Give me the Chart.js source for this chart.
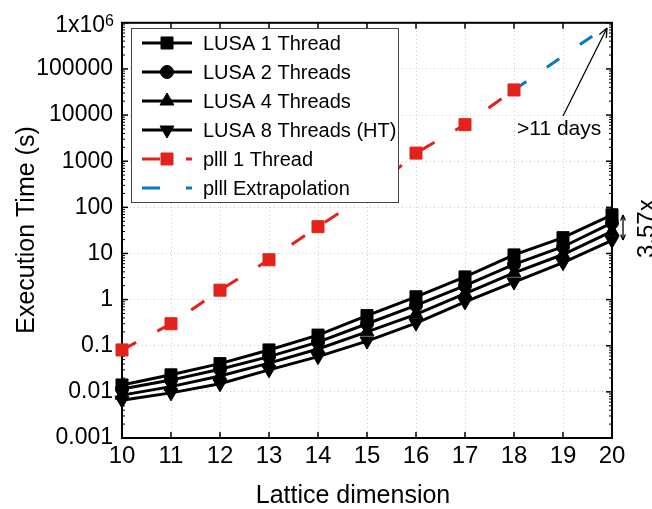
<!DOCTYPE html>
<html>
<head>
<meta charset="utf-8">
<script src="https://cdn.jsdelivr.net/npm/chart.js@4.4.1/dist/chart.umd.min.js"></script>
<style>
  html, body { margin: 0; padding: 0; background: #fff; }
  #wrap { width: 652px; height: 509px; position: relative; }
</style>
</head>
<body>
<div id="wrap"><canvas id="timing"></canvas></div>
<script>
// lattice dimensions on the x axis
const dims = [10, 11, 12, 13, 14, 15, 16, 17, 18, 19, 20];

// execution time in seconds
const lusa1 = [0.0141, 0.0234, 0.041, 0.081, 0.17, 0.45, 1.15, 3.1, 9.3, 22, 69];
const lusa2 = [0.0115, 0.018, 0.031, 0.058, 0.12, 0.30, 0.75, 2.0, 5.8, 14, 46];
const lusa4 = [0.0085, 0.013, 0.022, 0.042, 0.085, 0.20, 0.48, 1.35, 3.8, 9.5, 30];
const lusa8 = [0.0066, 0.0095, 0.015, 0.030, 0.058, 0.126, 0.31, 0.89, 2.4, 6.3, 19.3];
const plll = [0.081, 0.30, 1.6, 7.3, 38, 186, 1500, 6200, 35000, null, null];
const plllExtra = [null, null, null, null, null, null, null, null, 35000, 190000, 1000000];

const yTicks = [0.001, 0.01, 0.1, 1, 10, 100, 1000, 10000, 100000, 1000000];
// the top label (1x10^6) is drawn by hand so the exponent can be raised
const yTickLabels = ['0.001', '0.01', '0.1', '1', '10', '100', '1000', '10000', '100000', ''];

const FONT = "'Liberation Sans', Arial, sans-serif";
const RED = '#e3231b';
const BLUE = '#0b78c0';

function pts(arr) {
    return dims.map((d, i) => ({ x: d, y: arr[i] }));
}

function lusaSet(label, arr, style, radius, rotation) {
    return {
        label: label,
        data: pts(arr),
        borderColor: '#000',
        backgroundColor: '#000',
        borderWidth: 3,
        pointStyle: style,
        pointRadius: radius,
        pointRotation: rotation,
        pointBorderWidth: 1,
        pointBackgroundColor: '#000',
        pointBorderColor: '#000',
        clip: false
    };
}

function line(ctx, x1, y1, x2, y2) {
    ctx.beginPath();
    ctx.moveTo(x1, y1);
    ctx.lineTo(x2, y2);
    ctx.stroke();
}

function arrowHead(ctx, x1, y1, x2, y2, len) {
    // open V head at (x2, y2)
    const ang = Math.atan2(y2 - y1, x2 - x1);
    line(ctx, x2, y2, x2 - len * Math.cos(ang - 0.4), y2 - len * Math.sin(ang - 0.4));
    line(ctx, x2, y2, x2 - len * Math.cos(ang + 0.4), y2 - len * Math.sin(ang + 0.4));
}

// frame with inward ticks, drawn under the data
const framePlugin = {
    id: 'frame',
    beforeDatasetsDraw(chart) {
        const { ctx, chartArea: a, scales: { x, y } } = chart;
        ctx.save();
        ctx.strokeStyle = '#000';
        ctx.lineWidth = 1.5;
        dims.forEach(d => {
            const px = x.getPixelForValue(d);
            line(ctx, px, a.bottom, px, a.bottom - 6);
            line(ctx, px, a.top, px, a.top + 6);
        });
        yTicks.forEach(v => {
            const py = y.getPixelForValue(v);
            line(ctx, a.left, py, a.left + 6, py);
            line(ctx, a.right, py, a.right - 6, py);
        });
        ctx.lineWidth = 1;
        for (let k = 0; k < yTicks.length - 1; k++) {
            for (let m = 2; m < 10; m++) {
                const py = y.getPixelForValue(yTicks[k] * m);
                line(ctx, a.left, py, a.left + 3, py);
                line(ctx, a.right, py, a.right - 3, py);
            }
        }
        ctx.lineWidth = 2;
        ctx.strokeRect(a.left, a.top, a.width, a.height);
        ctx.restore();
    }
};

// legend box, axis titles and the two notes
const extrasPlugin = {
    id: 'extras',
    afterDraw(chart) {
        const ctx = chart.ctx;
        const y = chart.scales.y;
        ctx.save();

        // top y label with superscript exponent
        const topY = y.getPixelForValue(yTicks[yTicks.length - 1]);
        ctx.fillStyle = '#000';
        ctx.textAlign = 'right';
        ctx.textBaseline = 'alphabetic';
        ctx.font = '16px ' + FONT;
        const expW = ctx.measureText('6').width;
        ctx.fillText('6', 114, topY + 3);
        ctx.font = '23px ' + FONT;
        ctx.fillText('1x10', 114 - expW, topY + 9);

        // legend
        ctx.fillStyle = '#fff';
        ctx.fillRect(131, 28, 267, 174);
        ctx.strokeStyle = '#444';
        ctx.lineWidth = 1;
        ctx.strokeRect(131.5, 28.5, 267, 174);
        chart.data.datasets.forEach((ds, i) => {
            const cy = 43 + i * 29;
            ctx.strokeStyle = ds.borderColor;
            ctx.lineWidth = 3;
            ctx.setLineDash(ds.borderDash ? [18, 26] : []);
            line(ctx, 142, cy, 192, cy);
            ctx.setLineDash([]);
            if (ds.pointRadius > 0) {
                ctx.fillStyle = ds.pointBackgroundColor;
                ctx.strokeStyle = ds.pointBorderColor;
                ctx.lineWidth = ds.pointBorderWidth;
                Chart.helpers.drawPoint(ctx, {
                    pointStyle: ds.pointStyle,
                    radius: ds.pointRadius,
                    rotation: ds.pointRotation || 0,
                    borderWidth: ds.pointBorderWidth
                }, 167, cy);
            }
            ctx.fillStyle = '#000';
            ctx.font = '20px ' + FONT;
            ctx.textAlign = 'left';
            ctx.textBaseline = 'middle';
            ctx.fillText(ds.label, 203, cy + 1);
        });

        // axis titles
        ctx.fillStyle = '#000';
        ctx.font = '25px ' + FONT;
        ctx.textAlign = 'center';
        ctx.textBaseline = 'alphabetic';
        ctx.fillText('Lattice dimension', 353, 503);
        ctx.save();
        ctx.translate(34, 230);
        ctx.rotate(-Math.PI / 2);
        ctx.fillText('Execution Time (s)', 0, 0);
        ctx.restore();

        // >11 days note
        ctx.font = '21px ' + FONT;
        ctx.textAlign = 'left';
        ctx.fillText('>11 days', 517, 135);
        ctx.strokeStyle = '#000';
        ctx.lineWidth = 1.3;
        line(ctx, 563, 116, 607, 28);
        arrowHead(ctx, 563, 116, 607, 28, 10);

        // speedup note
        line(ctx, 623, 215, 623, 240);
        arrowHead(ctx, 623, 240, 623, 215, 6);
        arrowHead(ctx, 623, 215, 623, 240, 6);
        ctx.save();
        ctx.translate(654, 258);
        ctx.rotate(-Math.PI / 2);
        ctx.font = '24px ' + FONT;
        ctx.textAlign = 'left';
        ctx.fillText('3.57x', 0, 0);
        ctx.restore();

        ctx.restore();
    }
};

const config = {
    type: 'line',
    data: {
        datasets: [
            lusaSet('LUSA 1 Thread', lusa1, 'rect', 8.5, 0),
            lusaSet('LUSA 2 Threads', lusa2, 'circle', 6.5, 0),
            lusaSet('LUSA 4 Threads', lusa4, 'triangle', 8, 0),
            lusaSet('LUSA 8 Threads (HT)', lusa8, 'triangle', 8, 180),
            {
                label: 'plll 1 Thread',
                data: pts(plll),
                borderColor: RED,
                borderWidth: 3,
                borderDash: [16, 24],
                pointStyle: 'rect',
                pointRadius: 8.5,
                pointBorderWidth: 1,
                pointBackgroundColor: RED,
                pointBorderColor: RED,
                spanGaps: false,
                clip: false
            },
            {
                label: 'plll Extrapolation',
                data: pts(plllExtra),
                borderColor: BLUE,
                borderWidth: 3,
                borderDash: [15, 25],
                pointRadius: 0,
                spanGaps: false,
                clip: false
            }
        ]
    },
    options: {
        responsive: false,
        animation: false,
        layout: { padding: { top: 22, right: 40, left: 0, bottom: 0 } },
        plugins: {
            legend: { display: false },
            tooltip: { enabled: false }
        },
        elements: { line: { tension: 0 } },
        scales: {
            x: {
                type: 'linear',
                min: 10,
                max: 20,
                afterBuildTicks: scale => { scale.ticks = dims.map(d => ({ value: d })); },
                afterFit: scale => { scale.height = 71; },
                ticks: {
                    color: '#000',
                    font: { family: FONT, size: 24 },
                    padding: 4,
                    maxRotation: 0,
                    callback: v => String(v)
                },
                grid: { color: '#c8c8c8', lineWidth: 1, drawTicks: false, borderDash: [1, 3] },
                border: { display: false, dash: [1, 3] }
            },
            y: {
                type: 'logarithmic',
                min: 0.001,
                max: 1000000,
                afterBuildTicks: scale => { scale.ticks = yTicks.map(v => ({ value: v })); },
                afterFit: scale => { scale.width = 122; },
                ticks: {
                    color: '#000',
                    font: { family: FONT, size: 23 },
                    padding: 9,
                    callback: (v, i) => yTickLabels[i]
                },
                grid: { color: '#c8c8c8', lineWidth: 1, drawTicks: false, borderDash: [1, 3] },
                border: { display: false, dash: [1, 3] }
            }
        }
    },
    plugins: [framePlugin, extrasPlugin]
};

const canvas = document.getElementById('timing');
canvas.width = 652;
canvas.height = 509;
new Chart(canvas, config);
</script>
</body>
</html>
